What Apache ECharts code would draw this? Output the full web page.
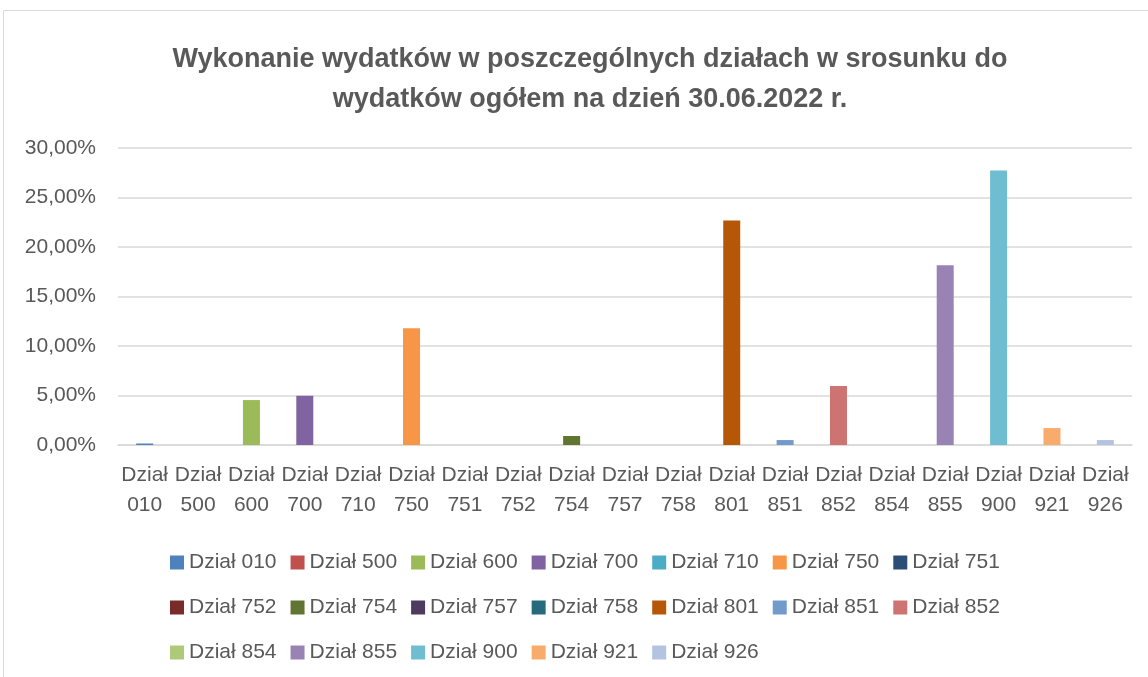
<!DOCTYPE html>
<html>
<head>
<meta charset="utf-8">
<script src="https://cdn.jsdelivr.net/npm/echarts@6/dist/echarts.min.js"></script>
<style>
  html, body { margin: 0; padding: 0; background: #fff; }
  #chart { width: 1148px; height: 677px; }
</style>
</head>
<body>
<div id="chart"></div>
<script>
// dane
const categories = ['Dział 010', 'Dział 500', 'Dział 600', 'Dział 700', 'Dział 710', 'Dział 750', 'Dział 751',
  'Dział 752', 'Dział 754', 'Dział 757', 'Dział 758', 'Dział 801', 'Dział 851', 'Dział 852',
  'Dział 854', 'Dział 855', 'Dział 900', 'Dział 921', 'Dział 926'];
const values = [0.15, 0, 4.54, 4.97, 0, 11.8, 0, 0, 0.91, 0, 0, 22.68, 0.5, 5.95, 0, 18.15, 27.72, 1.71, 0.5];
const colors = ['#4F81BD', '#C0504D', '#9BBB59', '#8064A2', '#4BACC6', '#F79646', '#2C4D75',
  '#772C2A', '#5F7530', '#4D3B62', '#276A7C', '#B65708', '#729ACA', '#CD7371',
  '#AFC97A', '#9983B5', '#6FBDD1', '#F9AB6B', '#B4C3DF'];
const yTicks = [0, 5, 10, 15, 20, 25, 30];

const textColor = '#595959';
const font = 'Liberation Sans';

var chart = echarts.init(document.getElementById('chart'));

// każda kategoria jako osobna seria, żeby legenda miała wszystkie pozycje
const series = categories.map(function (name, i) {
  return {
    name: name,
    type: 'bar',
    barWidth: 17,
    barGap: '-100%',
    itemStyle: { color: colors[i] },
    data: categories.map(function (c, j) { return j === i ? values[i] : '-'; })
  };
});

function legendRow(names, top) {
  return {
    data: names,
    left: 170,
    top: top,
    padding: 0,
    orient: 'horizontal',
    itemWidth: 14,
    itemHeight: 14,
    itemGap: 14,
    icon: 'rect',
    textStyle: { color: textColor, fontFamily: font, fontSize: 21 }
  };
}

const option = {
  animation: false,
  title: {
    text: 'Wykonanie wydatków w poszczególnych działach w srosunku do\nwydatków ogółem na dzień 30.06.2022 r.',
    left: 590,
    top: 40,
    padding: 0,
    textAlign: 'center',
    textStyle: {
      color: textColor,
      fontFamily: font,
      fontWeight: 'bold',
      fontSize: 27,
      lineHeight: 40
    }
  },
  legend: [
    legendRow(categories.slice(0, 7), 552),
    legendRow(categories.slice(7, 14), 597),
    legendRow(categories.slice(14), 642)
  ],
  grid: { left: 118, right: 16, top: 148, bottom: 232 },
  xAxis: {
    type: 'category',
    data: categories,
    axisLine: { lineStyle: { color: '#D9D9D9', width: 1.5 } },
    axisTick: { show: false },
    axisLabel: {
      interval: 0,
      color: textColor,
      fontFamily: font,
      fontSize: 21,
      lineHeight: 30,
      margin: 15,
      formatter: function (v) { return v.replace(' ', '\n'); }
    }
  },
  yAxis: {
    type: 'value',
    min: yTicks[0],
    max: yTicks[yTicks.length - 1],
    interval: yTicks[1] - yTicks[0],
    axisLine: { show: false },
    axisTick: { show: false },
    splitLine: { lineStyle: { color: '#D9D9D9', width: 1.5 } },
    axisLabel: {
      color: textColor,
      fontFamily: font,
      fontSize: 21,
      margin: 22,
      formatter: function (v) { return v.toFixed(2).replace('.', ',') + '%'; }
    }
  },
  graphic: [{
    type: 'rect',
    silent: true,
    shape: { x: 3.5, y: 10.5, width: 1200, height: 700 },
    style: { fill: 'none', stroke: '#D9D9D9', lineWidth: 1 }
  }],
  series: series
};

chart.setOption(option);
window.addEventListener('resize', () => {
  chart.resize();
});
</script>
</body>
</html>
